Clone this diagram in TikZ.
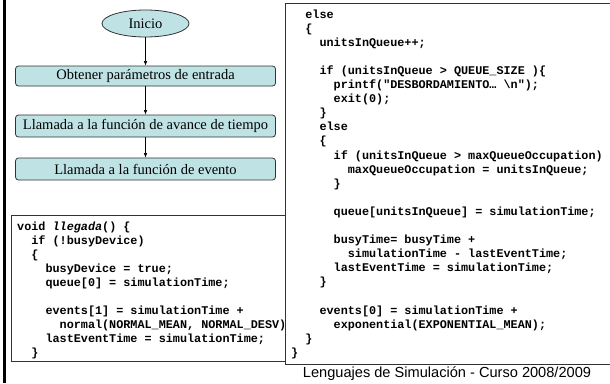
\documentclass[tikz,border=0pt]{standalone}
\usepackage{fontspec}
\setmonofont{Liberation Mono}
\newfontfamily\flowfont{Liberation Serif}
\newfontfamily\footfont{Liberation Sans}
\usetikzlibrary{shapes.geometric,arrows.meta}
\definecolor{boxfill}{RGB}{191,227,229}
\definecolor{boxline}{RGB}{50,50,50}
\newcommand\lvl[1]{\hspace*{#1\fontcharwd\font`0}}
\tikzset{
  flowbox/.style={draw=boxline, line width=0.8pt, fill=boxfill, rounded corners=3pt,
    minimum width=260pt, inner sep=0pt, font=\flowfont\fontsize{14.5}{16}\selectfont},
  startnode/.style={ellipse, draw=boxline, line width=0.8pt, fill=boxfill,
    minimum width=87pt, minimum height=27pt, inner sep=0pt, font=\flowfont\fontsize{14.5}{16}\selectfont},
  flowarrow/.style={draw=black, line width=0.6pt, -{Latex[length=4.5pt,width=3.5pt]}},
  codebox/.style={draw=boxline, line width=0.8pt, fill=white},
  codetext/.style={anchor=base west, inner sep=0pt,
    font=\ttfamily\bfseries\fontsize{11.8}{14.1}\selectfont}
}
\begin{document}
\begin{tikzpicture}[x=1pt,y=-1pt]
\useasboundingbox[fill=white] (0,0) rectangle (610,383);
% left black bar
\draw[line width=3pt, black] (4.5,0) -- (4.5,383);
% flowchart
\node[startnode] (inicio) at (145.5,23.5) {Inicio};
\node[flowbox, minimum height=20pt] (b1) at (145.5,76) {Obtener parámetros de entrada};
\node[flowbox, minimum height=22pt] (b2) at (145.5,126) {Llamada a la función de avance de tiempo};
\node[flowbox, minimum height=22pt] (b3) at (145.5,169) {Llamada a la función de evento};
\draw[flowarrow] (inicio) -- (b1);
\draw[flowarrow] (b1) -- (b2);
\draw[flowarrow] (b2) -- (b3);
% left code box
\draw[codebox] (11,215) rectangle (292,361.5);
\node[codetext] (leftcode) at (17,230) {%
\begin{tabular}[t]{@{}l@{}}
void \textit{llegada}() \{\\
\lvl{2}if (!busyDevice)\\
\lvl{2}\{\\
\lvl{4}busyDevice = true;\\
\lvl{4}queue[0] = simulationTime;\\
\\
\lvl{4}events[1] = simulationTime +\\
\lvl{6}normal(NORMAL\_MEAN, NORMAL\_DESV)\\
\lvl{4}lastEventTime = simulationTime;\\
\lvl{2}\}
\end{tabular}};
% right code box (drawn over the left one)
\fill[white] (285,3) rectangle (612,364);
\draw[boxline, line width=0.8pt] (612,3) -- (285,3) -- (285,364) -- (612,364);
\node[codetext] (rightcode) at (291,18) {%
\begin{tabular}[t]{@{}l@{}}
\lvl{2}else\\
\lvl{2}\{\\
\lvl{4}unitsInQueue++;\\
\\
\lvl{4}if (unitsInQueue > QUEUE\_SIZE )\{\\
\lvl{6}printf("DESBORDAMIENTO… \textbackslash n");\\
\lvl{6}exit(0);\\
\lvl{4}\}\\
\lvl{4}else\\
\lvl{4}\{\\
\lvl{6}if (unitsInQueue > maxQueueOccupation)\\
\lvl{8}maxQueueOccupation = unitsInQueue;\\
\lvl{6}\}\\
\\
\lvl{6}queue[unitsInQueue] = simulationTime;\\
\\
\lvl{6}busyTime= busyTime +\\
\lvl{8}simulationTime - lastEventTime;\\
\lvl{6}lastEventTime = simulationTime;\\
\lvl{4}\}\\
\\
\lvl{4}events[0] = simulationTime +\\
\lvl{6}exponential(EXPONENTIAL\_MEAN);\\
\lvl{2}\}\\
\}
\end{tabular}};
% footer
\node[inner sep=0pt, font=\footfont\fontsize{14.6}{16}\selectfont] (footer) at (447,373.5) {Lenguajes de Simulación - Curso 2008/2009};
\end{tikzpicture}
\end{document}
